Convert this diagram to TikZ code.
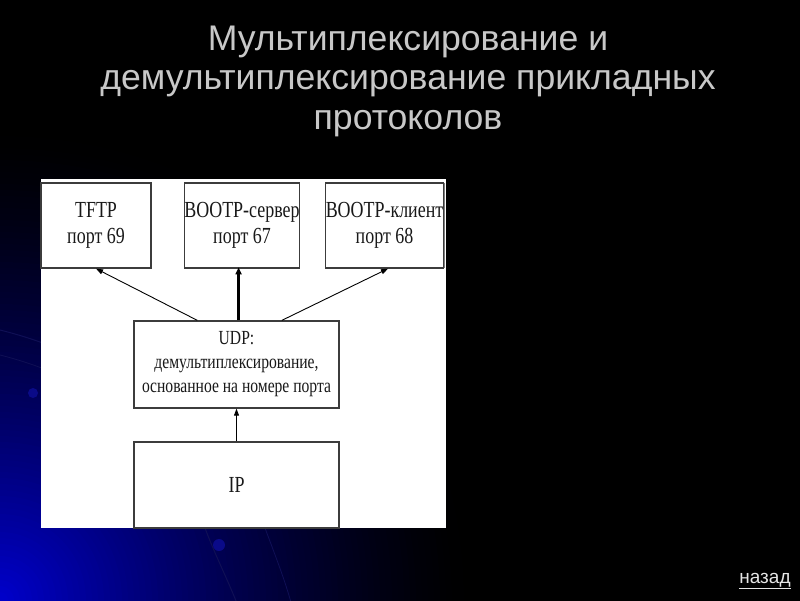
\documentclass[tikz,border=0pt]{standalone}
\usepackage{fontspec}
\setmainfont{Liberation Sans}
\newfontfamily\diagfont[FakeStretch=0.78]{Liberation Serif}
\usetikzlibrary{calc,arrows.meta}
\definecolor{glowblue}{RGB}{0,0,205}
\definecolor{swoosh}{RGB}{15,15,85}
\definecolor{titlegray}{RGB}{200,200,200}
\definecolor{boxline}{RGB}{60,60,60}
\definecolor{textdark}{RGB}{25,25,25}
\tikzset{
  boxnode/.style={draw=boxline, line width=1.3pt, fill=white, inner sep=0pt, align=center, text=textdark},
  topfont/.style={font=\diagfont\fontsize{23}{26}\selectfont},
  udpfont/.style={font=\diagfont\fontsize{20}{24}\selectfont},
  arr/.style={draw=black, line width=0.9pt, -{Triangle[length=7pt,width=5pt]}},
  thickarr/.style={draw=black, line width=2.4pt, -{Triangle[length=7pt,width=6pt]}},
  titlestyle/.style={text=titlegray, align=center, font=\fontsize{35.6}{39.5}\selectfont},
  backlink/.style={text=white!90!black, font=\fontsize{19}{22}\selectfont}
}
\begin{document}
\begin{tikzpicture}[x=1pt,y=-1pt]
\useasboundingbox (0,0) rectangle (800,600);
\fill[black] (-6,-6) rectangle (806,606);
\begin{scope}
  \clip (-6,-6) rectangle (806,606);
  \foreach \r in {470,464,...,4} {
    \pgfmathsetmacro\p{100*(1-\r/470)^1.4}
    \fill[glowblue!\p!black] (0,600) circle (\r pt);
  }
  \draw[swoosh, line width=1pt] (0,330) .. controls (60,345) and (110,370) .. (140,400);
  \draw[swoosh, line width=0.8pt] (0,355) .. controls (40,365) and (90,385) .. (130,415);
  \fill[swoosh!70!blue] (33,393) circle (5pt);
  \draw[swoosh, line width=1pt] (205,528) .. controls (215,555) and (228,580) .. (238,606);
  \draw[swoosh, line width=0.8pt] (265,528) .. controls (275,555) and (285,580) .. (292,606);
  \fill[swoosh!70!blue] (219,545) circle (6pt);
\end{scope}

\node[titlestyle] (title) at (408,81) {Мультиплексирование и\\демультиплексирование прикладных\\протоколов};

\fill[white] (41,179) rectangle (446,528);
\draw[gray, line width=2pt] (444,183) -- (444,268);

\node[boxnode, topfont, minimum width=110pt, minimum height=85pt] (tftp) at (96,225.5) {TFTP\\порт 69};
\node[boxnode, topfont, minimum width=114pt, minimum height=85pt] (bootps) at (242,225.5) {BOOTP-сервер\\порт 67};
\node[boxnode, topfont, minimum width=113pt, minimum height=85pt] (bootpc) at (384.5,225.5) {BOOTP-клиент\\порт 68};
\node[boxnode, udpfont, minimum width=205pt, minimum height=87pt] (udp) at (236.5,364.5) {UDP:\\демультиплексирование,\\основанное на номере порта};
\node[boxnode, topfont, minimum width=205pt, minimum height=86pt] (ip) at (236.5,485) {IP};

\draw[arr] ($(udp.north west)!0.31!(udp.north east)$) -- (tftp.south);
\draw[thickarr] ($(udp.north west)!0.51!(udp.north east)$) -- ($(udp.north west)!0.51!(udp.north east)+(0,-53)$);
\draw[arr] ($(udp.north west)!0.72!(udp.north east)$) -- ($(bootpc.south)+(3.5,0)$);
\draw[arr] (ip.north) -- (udp.south);

\node[backlink] (back) at (765,581) {\underline{назад}};
\end{tikzpicture}
\end{document}
